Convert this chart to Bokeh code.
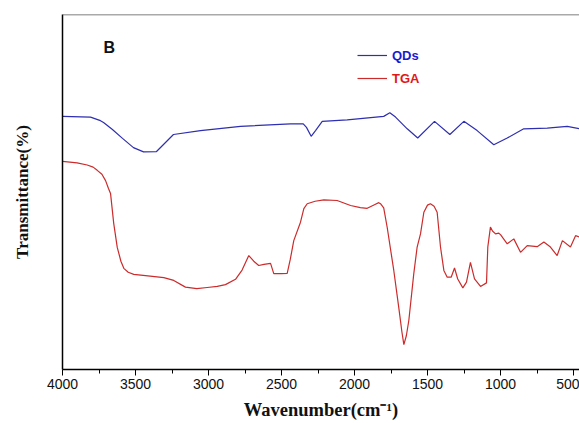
from bokeh.plotting import figure
from bokeh.models import Range1d, Span, Label, Legend, LegendItem, FixedTicker
from bokeh.embed import file_html
from bokeh.resources import INLINE

# ---- data ----
wn_qds = [4000, 3808, 3740, 3719, 3658, 3589, 3514, 3445, 3356, 3315, 3240, 3055,
          2781, 2438, 2351, 2329, 2297, 2267, 2221, 2050, 1800, 1758, 1719, 1639,
          1567, 1452, 1347, 1251, 1160, 1046, 954, 841, 680, 543, 459]
t_qds = [71.3, 71.1, 70.1, 69.6, 67.6, 65.1, 62.5, 61.3, 61.4, 63.1, 66.2, 67.3,
         68.5, 69.2, 69.2, 68.2, 65.7, 67.3, 69.9, 70.3, 71.3, 72.3, 71.1, 67.8,
         65.2, 69.9, 66.2, 69.9, 67.3, 63.3, 65.2, 67.8, 68.0, 68.5, 67.8]

wn_tga = [4000, 3950, 3900, 3831, 3790, 3762, 3730, 3705, 3685, 3671, 3649, 3625,
          3600, 3580, 3550, 3512, 3400, 3306, 3238, 3158, 3080, 3009, 2940, 2884,
          2815, 2770, 2724, 2690, 2656, 2620, 2575, 2553, 2500, 2461, 2440, 2416,
          2370, 2347, 2324, 2270, 2210, 2119, 2027, 1960, 1913, 1860, 1834, 1822,
          1800, 1776, 1731, 1697, 1675, 1662, 1645, 1628, 1594, 1571, 1548, 1525,
          1500, 1480, 1455, 1434, 1411, 1388, 1365, 1338, 1315, 1293, 1258, 1233,
          1206, 1178, 1137, 1096, 1087, 1069, 1055, 1034, 1012, 1000, 954, 909,
          863, 817, 749, 703, 658, 612, 576, 521, 486, 459]
t_tga = [58.6, 58.4, 58.2, 57.6, 57.0, 56.1, 55.0, 53.2, 51.0, 49.6, 41.1, 34.4,
         30.5, 28.5, 27.4, 26.8, 26.3, 25.9, 25.1, 23.2, 22.8, 23.1, 23.4, 23.9,
         25.4, 28.0, 32.1, 30.5, 29.3, 29.6, 29.9, 27.0, 27.0, 27.1, 31.0, 36.3,
         41.5, 45.3, 46.7, 47.4, 47.8, 47.6, 46.2, 45.6, 45.4, 46.5, 47.0, 46.7,
         45.5, 40.0, 27.9, 17.5, 10.5, 7.0, 9.5, 13.8, 27.0, 34.5, 38.2, 44.3,
         46.3, 46.7, 46.0, 44.3, 34.5, 27.9, 26.0, 26.0, 28.6, 25.5, 23.0, 24.6,
         30.2, 25.5, 23.4, 24.4, 34.5, 40.1, 39.0, 38.2, 38.4, 38.0, 35.4, 36.8,
         33.0, 34.9, 34.6, 35.9, 34.5, 32.1, 36.3, 34.5, 37.7, 37.3]

x_ticks = [4000, 3500, 3000, 2500, 2000, 1500, 1000, 500]
x_minor = [3750, 3250, 2750, 2250, 1750, 1250, 750]

BLUE_LINE = "#2e2eb0"
RED_LINE = "#cc2b2b"
BLUE_TEXT = "#1a1ad0"
RED_TEXT = "#e01818"

p = figure(width=579, height=423, output_backend="svg", toolbar_location=None,
           x_range=Range1d(4000, 459), y_range=Range1d(0, 100),
           min_border_left=62, min_border_right=0, min_border_top=14,
           min_border_bottom=54)
p.grid.visible = False
p.outline_line_color = None
p.background_fill_color = "white"
p.border_fill_color = "white"

r_qds = p.line(wn_qds, t_qds, line_color=BLUE_LINE, line_width=1.2)
r_tga = p.line(wn_tga, t_tga, line_color=RED_LINE, line_width=1.2)

# x axis
xa = p.xaxis[0]
xa.ticker = FixedTicker(ticks=x_ticks, minor_ticks=x_minor)
xa.major_tick_in = 0
xa.major_tick_out = 6
xa.minor_tick_in = 0
xa.minor_tick_out = 4
xa.axis_line_width = 1.5
xa.axis_line_color = "black"
xa.major_tick_line_color = "black"
xa.minor_tick_line_color = "black"
xa.major_label_standoff = 3
xa.major_label_text_font = "Liberation Sans"
xa.major_label_text_font_size = "14px"
xa.major_label_text_color = "#111111"
xa.axis_label = "Wavenumber(cm⁻¹)"
xa.axis_label_text_font = "Liberation Serif"
xa.axis_label_text_font_style = "bold"
xa.axis_label_text_font_size = "18.5px"
xa.axis_label_text_color = "#111111"
xa.axis_label_standoff = 8

# y axis
ya = p.yaxis[0]
ya.ticker = FixedTicker(ticks=[])
ya.major_tick_in = 0
ya.major_tick_out = 0
ya.minor_tick_in = 0
ya.minor_tick_out = 0
ya.major_label_standoff = 0
ya.axis_line_width = 1.5
ya.axis_line_color = "black"
ya.axis_label = "Transmittance(%)"
ya.axis_label_text_font = "Liberation Serif"
ya.axis_label_text_font_style = "bold"
ya.axis_label_text_font_size = "17px"
ya.axis_label_text_color = "#111111"
ya.axis_label_standoff = 31

# top border
p.add_layout(Span(location=100, dimension="width", line_color="#555555", line_width=1.5))

# legends
for label, rend, color, ypos in [("QDs", r_qds, BLUE_TEXT, 306), ("TGA", r_tga, RED_TEXT, 283)]:
    leg = Legend(items=[LegendItem(label=label, renderers=[rend])], location=(295, ypos),
                 glyph_width=30, glyph_height=16, label_height=16, label_standoff=5,
                 padding=0, margin=0, spacing=0, border_line_color=None,
                 background_fill_alpha=0, label_text_font="Liberation Sans",
                 label_text_font_style="bold", label_text_font_size="13px",
                 label_text_color=color)
    p.add_layout(leg)

p.add_layout(Label(x=41, y=322, x_units="screen", y_units="screen", text="B",
                   text_font="Liberation Sans", text_font_style="bold",
                   text_font_size="16px", text_color="#111111",
                   text_baseline="alphabetic"))

open("out.html", "w").write(file_html(p, INLINE))
